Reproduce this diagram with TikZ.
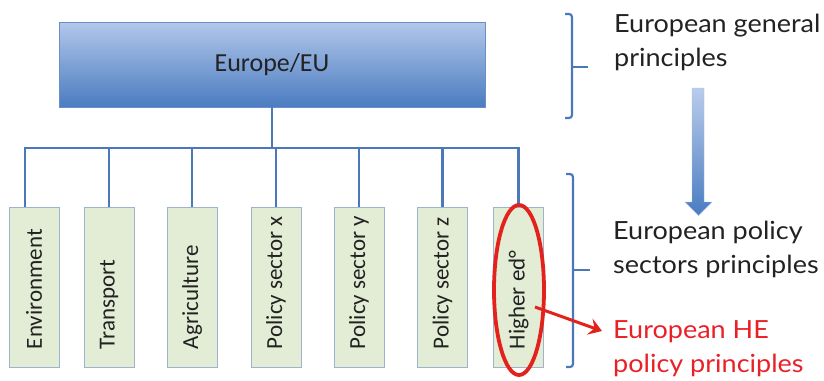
\documentclass[tikz,border=0pt]{standalone}
\usepackage{fontspec}
\setmainfont{Carlito}
\newfontfamily\gill[FakeStretch=1.08]{Lato}
\usetikzlibrary{shapes.geometric,arrows.meta,calc}
\definecolor{lineblue}{HTML}{4A78B8}
\definecolor{boxtop}{HTML}{B2C7E9}
\definecolor{boxbot}{HTML}{4A7CC1}
\definecolor{boxedge}{HTML}{6A8FC8}
\definecolor{leaffill}{HTML}{E3EDD5}
\definecolor{leafedge}{HTML}{9DB3CF}
\definecolor{hired}{HTML}{E3221E}
\definecolor{txtred}{HTML}{EA2027}
\definecolor{txtdark}{HTML}{222222}
\begin{document}
\begin{tikzpicture}[x=1pt,y=-1pt,
  eubox/.style={draw=boxedge,line width=0.8pt,top color=boxtop,bottom color=boxbot,
    minimum width=426pt,minimum height=85pt,inner sep=0pt,
    font=\fontsize{26}{30}\selectfont,text=txtdark},
  leaf/.style={draw=leafedge,line width=1pt,fill=leaffill,minimum width=50pt,
    minimum height=160pt,inner sep=0pt,font=\fontsize{23}{27}\selectfont,text=txtdark},
  conn/.style={draw=lineblue,line width=2.6pt},
  brack/.style={draw=lineblue,line width=2.2pt,rounded corners=3pt},
  sidetxt/.style={anchor=north west,align=left,inner sep=0pt,
    font=\gill\fontsize{25}{34}\selectfont},
  hilite/.style={draw=hired,line width=3.8pt,ellipse,minimum width=50pt,
    minimum height=170pt,inner sep=0pt},
  redarrow/.style={draw=hired,line width=3pt,-{Stealth[length=13pt,width=17pt,inset=5pt]}}
]
\useasboundingbox (0,0) rectangle (824,380);
\newcommand{\lt}[1]{\rotatebox{90}{\makebox[124pt][l]{#1}}}
% top box
\node[eubox] (eu) at (272,64.5) {\raisebox{-3pt}{Europe/EU}};
% leaf boxes
\node[leaf] (b1) at (34,287) {\lt{Environment}};
\node[leaf] (b2) at (109,287) {\lt{Transport}};
\node[leaf] (b3) at (192,287) {\lt{Agriculture}};
\node[leaf] (b4) at (276,287) {\lt{Policy sector x}};
\node[leaf] (b5) at (359,287) {\lt{Policy sector y}};
\node[leaf] (b6) at (442.5,287) {\lt{Policy sector z}};
\node[leaf] (b7) at (518.5,287) {\lt{Higher ed°}};
% connectors
\coordinate (d1) at (25,148);
\draw[conn] (eu.south) -- (eu.south |- d1);
\draw[conn] (d1 |- b1.north) -- (d1) -- (b7.north |- d1) -- (b7.north);
\foreach \b in {b2,b3,b4,b5,b6}{\draw[conn] (\b.north) -- (\b.north |- d1);}
% brackets
\draw[brack] (565,14) -- (572,14) -- (572,118) -- (565,118);
\draw[brack] (572,67) -- (588,67);
\draw[brack] (566,174) -- (573,174) -- (573,367) -- (566,367);
\draw[brack] (573,270) -- (590,270);
% big arrow
\shade[top color=boxtop!90,bottom color=boxbot,draw=boxedge!60,line width=0.4pt]
  (692,88) -- (704,88) -- (704,202) -- (712,202) -- (698.5,215.5) -- (685,202) -- (692,202) -- cycle;
% side texts
\node[sidetxt,text=txtdark] (t1) at (614,13.5) {European general\\principles};
\node[sidetxt,text=txtdark] (t2) at (613,220.5) {European policy\\sectors principles};
\node[sidetxt,text=txtred] (t3) at (613,320.5) {European HE\\policy principles};
% highlight
\node[hilite] (hl) at (519,290) {};
\coordinate (hs) at (535,307);
\coordinate (he) at (602,331);
\draw[redarrow] (hs) -- (he);
\end{tikzpicture}
\end{document}
